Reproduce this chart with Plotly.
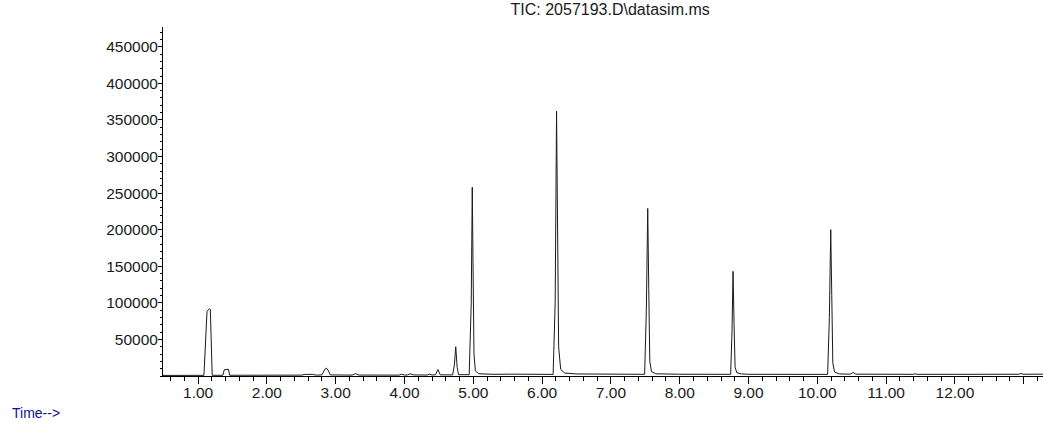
import plotly.graph_objects as go

# Chromatogram trace (retention time in minutes, abundance)
time_min = [
    0.49, 1.085, 1.13, 1.165, 1.178, 1.205,
    1.36, 1.38, 1.44, 1.46,
    2.50, 2.56, 2.66, 2.72,
    2.80, 2.84, 2.865, 2.89, 2.92,
    3.24, 3.29, 3.34,
    3.92, 3.96, 4.00, 4.04, 4.08, 4.13,
    4.33, 4.36, 4.40, 4.45, 4.485, 4.52,
    4.70, 4.725, 4.745, 4.765, 4.785,
    4.94, 4.97, 4.985, 4.995, 5.01, 5.03, 5.08, 5.30, 5.45, 5.50, 5.55,
    6.16, 6.19, 6.21, 6.225, 6.24, 6.27, 6.33, 6.50, 7.00,
    7.49, 7.515, 7.535, 7.55, 7.565, 7.59, 7.65, 8.00,
    8.74, 8.76, 8.775, 8.79, 8.805, 8.83, 8.90, 9.00,
    10.15, 10.175, 10.195, 10.21, 10.225, 10.25, 10.32,
    10.48, 10.52, 10.56, 11.00, 11.40, 11.42, 11.45, 12.00,
    12.93, 12.96, 12.99, 13.28,
]
abundance = [
    800, 900, 88500, 92000, 91000, 900,
    1000, 8500, 9200, 1000,
    1200, 2200, 2200, 1200,
    1500, 9000, 10700, 8000, 1500,
    1200, 3200, 1300,
    1200, 2500, 1300, 1400, 3000, 1500,
    1300, 2500, 1400, 1500, 8800, 1600,
    1500, 15000, 40000, 12000, 1800,
    1800, 100000, 258000, 160000, 30000, 7000, 3000, 2300, 2600, 2200, 2500,
    2200, 100000, 362000, 220000, 40000, 9000, 4000, 2800, 2400,
    2300, 90000, 229000, 120000, 20000, 6000, 3000, 2400,
    2300, 60000, 143000, 70000, 12000, 4500, 2800, 2300,
    2200, 80000, 200000, 110000, 18000, 5500, 2800,
    2500, 4800, 2500, 2200, 2300, 3000, 2300, 2300,
    2400, 3500, 2400, 2500,
]

x_tick_vals = [1, 2, 3, 4, 5, 6, 7, 8, 9, 10, 11, 12, 13]
x_tick_text = ["1.00", "2.00", "3.00", "4.00", "5.00", "6.00", "7.00", "8.00",
               "9.00", "10.00", "11.00", "12.00", ""]
y_tick_vals = [50000, 100000, 150000, 200000, 250000, 300000, 350000, 400000, 450000]
y_tick_text = ["50000", "100000", "150000", "200000", "250000", "300000",
               "350000", "400000", "450000"]

title_text = "TIC: 2057193.D\\datasim.ms"
x_label = "Time-->"

FONT = "Liberation Sans, Arial, sans-serif"
TXT = "#1a1a1a"

fig = go.Figure()
fig.add_trace(go.Scatter(
    x=time_min, y=abundance, mode="lines",
    line=dict(color="#1a1a1a", width=1),
    hoverinfo="skip", showlegend=False,
))

fig.update_layout(
    width=1043, height=423,
    margin=dict(l=163, r=0, t=27, b=47),
    paper_bgcolor="white", plot_bgcolor="white",
    font=dict(family=FONT, size=15.5, color=TXT),
    title=dict(text=title_text, x=0.585, xref="container", xanchor="center",
               y=0.978, yref="container", yanchor="middle",
               font=dict(family=FONT, size=16, color=TXT)),
    xaxis=dict(
        range=[0.49, 13.28], showgrid=False, zeroline=False,
        showline=True, linecolor="black", linewidth=1,
        ticks="outside", ticklen=7, tickwidth=1, tickcolor="black",
        tickvals=x_tick_vals, ticktext=x_tick_text,
        ticklabelstandoff=-5,
        minor=dict(ticks="outside", ticklen=4, tick0=0, dtick=0.2,
                   tickcolor="black", tickwidth=1),
        tickfont=dict(family=FONT, size=15.5, color=TXT),
    ),
    yaxis=dict(
        range=[0, 477000], showgrid=False, zeroline=False,
        showline=True, linecolor="black", linewidth=1,
        ticks="outside", ticklen=4, tickwidth=1, tickcolor="black",
        tickvals=y_tick_vals, ticktext=y_tick_text,
        ticklabelstandoff=-3,
        minor=dict(ticks="outside", ticklen=2, tick0=0, dtick=10000,
                   tickcolor="black", tickwidth=1),
        tickfont=dict(family=FONT, size=15.5, color=TXT),
    ),
    annotations=[dict(
        text=x_label, xref="paper", yref="paper",
        x=-153 / 880, xanchor="left",
        y=-37 / 349, yanchor="middle", showarrow=False,
        font=dict(family=FONT, size=14, color="#101090"),
    )],
)

fig.write_html("out.html",
               config={"displayModeBar": False, "staticPlot": True},
               post_script="document.body.style.margin='0';document.body.style.padding='0';")
